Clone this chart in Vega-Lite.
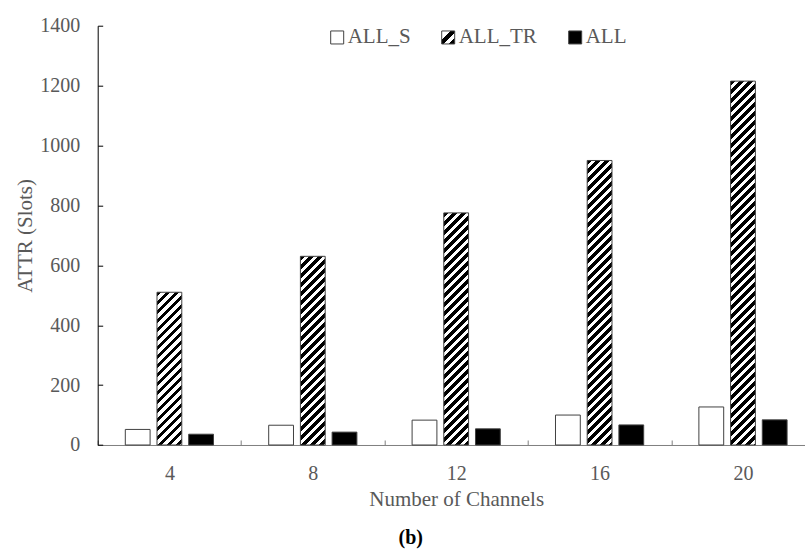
{
"$schema": "https://vega.github.io/schema/vega-lite/v6.json",
"autosize": {"type": "none"},
"width": 708,
"height": 419.3,
"padding": {"left": 97.7, "top": 25.7, "right": 0, "bottom": 104},
"background": "white",
"config": {"view": {"stroke": null}, "font": "Liberation Serif",
 "axis": {"labelFont": "Liberation Serif", "titleFont": "Liberation Serif"},
 "legend": {"labelFont": "Liberation Serif", "titleFont": "Liberation Serif"},
 "title": {"font": "Liberation Serif"}},
"title": {"text": "(b)", "orient": "bottom", "anchor": "middle", "dx": -41, "offset": 18, "fontSize": 20, "fontWeight": "bold", "color": "#000000", "font": "Liberation Serif"},
"data": {"values": [
{"channels": 4, "series": "ALL_S", "value": 52},
{"channels": 4, "series": "ALL_TR", "value": 510},
{"channels": 4, "series": "ALL", "value": 36},
{"channels": 8, "series": "ALL_S", "value": 66},
{"channels": 8, "series": "ALL_TR", "value": 630},
{"channels": 8, "series": "ALL", "value": 43},
{"channels": 12, "series": "ALL_S", "value": 83},
{"channels": 12, "series": "ALL_TR", "value": 775},
{"channels": 12, "series": "ALL", "value": 54},
{"channels": 16, "series": "ALL_S", "value": 100},
{"channels": 16, "series": "ALL_TR", "value": 950},
{"channels": 16, "series": "ALL", "value": 67},
{"channels": 20, "series": "ALL_S", "value": 127},
{"channels": 20, "series": "ALL_TR", "value": 1215},
{"channels": 20, "series": "ALL", "value": 84}
]},
"mark": {"type": "bar", "stroke": "#404040", "strokeWidth": 1, "opacity": 1},
"encoding": {
"x": {"field": "channels", "type": "ordinal",
 "scale": {"range": [0, 717], "paddingInner": 0, "paddingOuter": 0},
 "axis": {"title": "Number of Channels", "labelAngle": 0, "tickBand": "extent", "tickSize": -5, "tickColor": "#808080", "domainColor": "#808080", "labelPadding": 24, "labelFont": "Liberation Serif", "labelFontSize": 20, "labelColor": "#595959", "titleFont": "Liberation Serif", "titleFontSize": 21, "titleColor": "#595959", "titleFontWeight": "normal", "titlePadding": 5}},
"xOffset": {"field": "series", "type": "nominal", "sort": ["ALL_S", "ALL_TR", "ALL"], "scale": {"paddingInner": 0.2177, "paddingOuter": 0.8707}},
"y": {"field": "value", "type": "quantitative",
 "scale": {"domain": [0, 1400], "nice": false},
 "axis": {"title": "ATTR (Slots)", "values": [0, 200, 400, 600, 800, 1000, 1200, 1400], "format": "d", "grid": false, "tickSize": -5, "tickColor": "#000000", "domainColor": "#000000", "labelPadding": 23, "labelFont": "Liberation Serif", "labelFontSize": 20, "labelColor": "#595959", "titleFont": "Liberation Serif", "titleFontSize": 21, "titleColor": "#595959", "titleFontWeight": "normal", "titlePadding": 4}},
"fill": {"field": "series", "type": "nominal",
 "scale": {"domain": ["ALL_S", "ALL_TR", "ALL"], "range": ["#ffffff", {"expr": "{gradient: 'linear', x1: 0, y1: 0, x2: 1, y2: 1, stops: [{offset: 0, color: '#fff'}, {offset: 0.33, color: '#fff'}, {offset: 0.33, color: '#000'}, {offset: 0.58, color: '#000'}, {offset: 0.58, color: '#fff'}, {offset: 0.76, color: '#fff'}, {offset: 0.76, color: '#000'}, {offset: 1, color: '#000'}]}"}, "#000000"]},
 "legend": {"title": null, "orient": "none", "legendX": 229, "legendY": 1, "direction": "horizontal", "symbolType": "square", "symbolSize": 169, "symbolStrokeColor": "#404040", "symbolStrokeWidth": 1, "labelFont": "Liberation Serif", "labelFontSize": 21, "labelColor": "#595959", "labelOffset": 0, "columnPadding": 27},
 "condition": [
 {"test": "datum.series === 'ALL_TR' && datum.channels === 4", "value": {"gradient": "linear", "x1": 0, "y1": 0, "x2": 0.46602, "y2": 2.87032, "stops": [
{"offset":0.00,"color":"#000"},{"offset":0.01,"color":"#000"},{"offset":0.01,"color":"#fff"},{"offset":0.02,"color":"#fff"},{"offset":0.02,"color":"#000"},{"offset":0.03,"color":"#000"},{"offset":0.03,"color":"#fff"},{"offset":0.04,"color":"#fff"},{"offset":0.04,"color":"#000"},{"offset":0.05,"color":"#000"},{"offset":0.05,"color":"#fff"},{"offset":0.06,"color":"#fff"},{"offset":0.06,"color":"#000"},{"offset":0.07,"color":"#000"},{"offset":0.07,"color":"#fff"},{"offset":0.08,"color":"#fff"},{"offset":0.08,"color":"#000"},{"offset":0.09,"color":"#000"},{"offset":0.09,"color":"#fff"},{"offset":0.10,"color":"#fff"},
{"offset":0.10,"color":"#000"},{"offset":0.11,"color":"#000"},{"offset":0.11,"color":"#fff"},{"offset":0.12,"color":"#fff"},{"offset":0.12,"color":"#000"},{"offset":0.13,"color":"#000"},{"offset":0.13,"color":"#fff"},{"offset":0.14,"color":"#fff"},{"offset":0.14,"color":"#000"},{"offset":0.15,"color":"#000"},{"offset":0.15,"color":"#fff"},{"offset":0.16,"color":"#fff"},{"offset":0.16,"color":"#000"},{"offset":0.17,"color":"#000"},{"offset":0.17,"color":"#fff"},{"offset":0.18,"color":"#fff"},{"offset":0.18,"color":"#000"},{"offset":0.19,"color":"#000"},{"offset":0.19,"color":"#fff"},{"offset":0.20,"color":"#fff"},
{"offset":0.20,"color":"#000"},{"offset":0.21,"color":"#000"},{"offset":0.21,"color":"#fff"},{"offset":0.22,"color":"#fff"},{"offset":0.22,"color":"#000"},{"offset":0.23,"color":"#000"},{"offset":0.23,"color":"#fff"},{"offset":0.24,"color":"#fff"},{"offset":0.24,"color":"#000"},{"offset":0.25,"color":"#000"},{"offset":0.25,"color":"#fff"},{"offset":0.26,"color":"#fff"},{"offset":0.26,"color":"#000"},{"offset":0.27,"color":"#000"},{"offset":0.27,"color":"#fff"},{"offset":0.28,"color":"#fff"},{"offset":0.28,"color":"#000"},{"offset":0.29,"color":"#000"},{"offset":0.29,"color":"#fff"},{"offset":0.30,"color":"#fff"},
{"offset":0.30,"color":"#000"},{"offset":0.31,"color":"#000"},{"offset":0.31,"color":"#fff"},{"offset":0.32,"color":"#fff"},{"offset":0.32,"color":"#000"},{"offset":0.33,"color":"#000"},{"offset":0.33,"color":"#fff"},{"offset":0.34,"color":"#fff"},{"offset":0.34,"color":"#000"},{"offset":0.35,"color":"#000"},{"offset":0.35,"color":"#fff"},{"offset":0.36,"color":"#fff"},{"offset":0.36,"color":"#000"},{"offset":0.37,"color":"#000"},{"offset":0.37,"color":"#fff"},{"offset":0.38,"color":"#fff"},{"offset":0.38,"color":"#000"},{"offset":0.39,"color":"#000"},{"offset":0.39,"color":"#fff"},{"offset":0.40,"color":"#fff"}
 ]}},
 {"test": "datum.series === 'ALL_TR' && datum.channels === 8", "value": {"gradient": "linear", "x1": 0, "y1": 0, "x2": 0.30813, "y2": 2.34437, "stops": [
{"offset":0.00,"color":"#000"},{"offset":0.01,"color":"#000"},{"offset":0.01,"color":"#fff"},{"offset":0.02,"color":"#fff"},{"offset":0.02,"color":"#000"},{"offset":0.03,"color":"#000"},{"offset":0.03,"color":"#fff"},{"offset":0.04,"color":"#fff"},{"offset":0.04,"color":"#000"},{"offset":0.05,"color":"#000"},{"offset":0.05,"color":"#fff"},{"offset":0.06,"color":"#fff"},{"offset":0.06,"color":"#000"},{"offset":0.07,"color":"#000"},{"offset":0.07,"color":"#fff"},{"offset":0.08,"color":"#fff"},{"offset":0.08,"color":"#000"},{"offset":0.09,"color":"#000"},{"offset":0.09,"color":"#fff"},{"offset":0.10,"color":"#fff"},
{"offset":0.10,"color":"#000"},{"offset":0.11,"color":"#000"},{"offset":0.11,"color":"#fff"},{"offset":0.12,"color":"#fff"},{"offset":0.12,"color":"#000"},{"offset":0.13,"color":"#000"},{"offset":0.13,"color":"#fff"},{"offset":0.14,"color":"#fff"},{"offset":0.14,"color":"#000"},{"offset":0.15,"color":"#000"},{"offset":0.15,"color":"#fff"},{"offset":0.16,"color":"#fff"},{"offset":0.16,"color":"#000"},{"offset":0.17,"color":"#000"},{"offset":0.17,"color":"#fff"},{"offset":0.18,"color":"#fff"},{"offset":0.18,"color":"#000"},{"offset":0.19,"color":"#000"},{"offset":0.19,"color":"#fff"},{"offset":0.20,"color":"#fff"},
{"offset":0.20,"color":"#000"},{"offset":0.21,"color":"#000"},{"offset":0.21,"color":"#fff"},{"offset":0.22,"color":"#fff"},{"offset":0.22,"color":"#000"},{"offset":0.23,"color":"#000"},{"offset":0.23,"color":"#fff"},{"offset":0.24,"color":"#fff"},{"offset":0.24,"color":"#000"},{"offset":0.25,"color":"#000"},{"offset":0.25,"color":"#fff"},{"offset":0.26,"color":"#fff"},{"offset":0.26,"color":"#000"},{"offset":0.27,"color":"#000"},{"offset":0.27,"color":"#fff"},{"offset":0.28,"color":"#fff"},{"offset":0.28,"color":"#000"},{"offset":0.29,"color":"#000"},{"offset":0.29,"color":"#fff"},{"offset":0.30,"color":"#fff"},
{"offset":0.30,"color":"#000"},{"offset":0.31,"color":"#000"},{"offset":0.31,"color":"#fff"},{"offset":0.32,"color":"#fff"},{"offset":0.32,"color":"#000"},{"offset":0.33,"color":"#000"},{"offset":0.33,"color":"#fff"},{"offset":0.34,"color":"#fff"},{"offset":0.34,"color":"#000"},{"offset":0.35,"color":"#000"},{"offset":0.35,"color":"#fff"},{"offset":0.36,"color":"#fff"},{"offset":0.36,"color":"#000"},{"offset":0.37,"color":"#000"},{"offset":0.37,"color":"#fff"},{"offset":0.38,"color":"#fff"},{"offset":0.38,"color":"#000"},{"offset":0.39,"color":"#000"},{"offset":0.39,"color":"#fff"},{"offset":0.40,"color":"#fff"},
{"offset":0.40,"color":"#000"},{"offset":0.41,"color":"#000"},{"offset":0.41,"color":"#fff"},{"offset":0.42,"color":"#fff"},{"offset":0.42,"color":"#000"},{"offset":0.43,"color":"#000"},{"offset":0.43,"color":"#fff"},{"offset":0.44,"color":"#fff"},{"offset":0.44,"color":"#000"},{"offset":0.45,"color":"#000"},{"offset":0.45,"color":"#fff"},{"offset":0.46,"color":"#fff"},{"offset":0.46,"color":"#000"},{"offset":0.47,"color":"#000"},{"offset":0.47,"color":"#fff"},{"offset":0.48,"color":"#fff"},{"offset":0.48,"color":"#000"},{"offset":0.49,"color":"#000"},{"offset":0.49,"color":"#fff"},{"offset":0.50,"color":"#fff"}
 ]}},
 {"test": "datum.series === 'ALL_TR' && datum.channels === 12", "value": {"gradient": "linear", "x1": 0, "y1": 0, "x2": 0.20481, "y2": 1.91685, "stops": [
{"offset":0.00,"color":"#000"},{"offset":0.01,"color":"#000"},{"offset":0.01,"color":"#fff"},{"offset":0.02,"color":"#fff"},{"offset":0.02,"color":"#000"},{"offset":0.03,"color":"#000"},{"offset":0.03,"color":"#fff"},{"offset":0.04,"color":"#fff"},{"offset":0.04,"color":"#000"},{"offset":0.05,"color":"#000"},{"offset":0.05,"color":"#fff"},{"offset":0.06,"color":"#fff"},{"offset":0.06,"color":"#000"},{"offset":0.07,"color":"#000"},{"offset":0.07,"color":"#fff"},{"offset":0.08,"color":"#fff"},{"offset":0.08,"color":"#000"},{"offset":0.09,"color":"#000"},{"offset":0.09,"color":"#fff"},{"offset":0.10,"color":"#fff"},
{"offset":0.10,"color":"#000"},{"offset":0.11,"color":"#000"},{"offset":0.11,"color":"#fff"},{"offset":0.12,"color":"#fff"},{"offset":0.12,"color":"#000"},{"offset":0.13,"color":"#000"},{"offset":0.13,"color":"#fff"},{"offset":0.14,"color":"#fff"},{"offset":0.14,"color":"#000"},{"offset":0.15,"color":"#000"},{"offset":0.15,"color":"#fff"},{"offset":0.16,"color":"#fff"},{"offset":0.16,"color":"#000"},{"offset":0.17,"color":"#000"},{"offset":0.17,"color":"#fff"},{"offset":0.18,"color":"#fff"},{"offset":0.18,"color":"#000"},{"offset":0.19,"color":"#000"},{"offset":0.19,"color":"#fff"},{"offset":0.20,"color":"#fff"},
{"offset":0.20,"color":"#000"},{"offset":0.21,"color":"#000"},{"offset":0.21,"color":"#fff"},{"offset":0.22,"color":"#fff"},{"offset":0.22,"color":"#000"},{"offset":0.23,"color":"#000"},{"offset":0.23,"color":"#fff"},{"offset":0.24,"color":"#fff"},{"offset":0.24,"color":"#000"},{"offset":0.25,"color":"#000"},{"offset":0.25,"color":"#fff"},{"offset":0.26,"color":"#fff"},{"offset":0.26,"color":"#000"},{"offset":0.27,"color":"#000"},{"offset":0.27,"color":"#fff"},{"offset":0.28,"color":"#fff"},{"offset":0.28,"color":"#000"},{"offset":0.29,"color":"#000"},{"offset":0.29,"color":"#fff"},{"offset":0.30,"color":"#fff"},
{"offset":0.30,"color":"#000"},{"offset":0.31,"color":"#000"},{"offset":0.31,"color":"#fff"},{"offset":0.32,"color":"#fff"},{"offset":0.32,"color":"#000"},{"offset":0.33,"color":"#000"},{"offset":0.33,"color":"#fff"},{"offset":0.34,"color":"#fff"},{"offset":0.34,"color":"#000"},{"offset":0.35,"color":"#000"},{"offset":0.35,"color":"#fff"},{"offset":0.36,"color":"#fff"},{"offset":0.36,"color":"#000"},{"offset":0.37,"color":"#000"},{"offset":0.37,"color":"#fff"},{"offset":0.38,"color":"#fff"},{"offset":0.38,"color":"#000"},{"offset":0.39,"color":"#000"},{"offset":0.39,"color":"#fff"},{"offset":0.40,"color":"#fff"},
{"offset":0.40,"color":"#000"},{"offset":0.41,"color":"#000"},{"offset":0.41,"color":"#fff"},{"offset":0.42,"color":"#fff"},{"offset":0.42,"color":"#000"},{"offset":0.43,"color":"#000"},{"offset":0.43,"color":"#fff"},{"offset":0.44,"color":"#fff"},{"offset":0.44,"color":"#000"},{"offset":0.45,"color":"#000"},{"offset":0.45,"color":"#fff"},{"offset":0.46,"color":"#fff"},{"offset":0.46,"color":"#000"},{"offset":0.47,"color":"#000"},{"offset":0.47,"color":"#fff"},{"offset":0.48,"color":"#fff"},{"offset":0.48,"color":"#000"},{"offset":0.49,"color":"#000"},{"offset":0.49,"color":"#fff"},{"offset":0.50,"color":"#fff"},
{"offset":0.50,"color":"#000"},{"offset":0.51,"color":"#000"},{"offset":0.51,"color":"#fff"},{"offset":0.52,"color":"#fff"},{"offset":0.52,"color":"#000"},{"offset":0.53,"color":"#000"},{"offset":0.53,"color":"#fff"},{"offset":0.54,"color":"#fff"},{"offset":0.54,"color":"#000"},{"offset":0.55,"color":"#000"},{"offset":0.55,"color":"#fff"},{"offset":0.56,"color":"#fff"},{"offset":0.56,"color":"#000"},{"offset":0.57,"color":"#000"},{"offset":0.57,"color":"#fff"},{"offset":0.58,"color":"#fff"},{"offset":0.58,"color":"#000"},{"offset":0.59,"color":"#000"},{"offset":0.59,"color":"#fff"},{"offset":0.60,"color":"#fff"}
 ]}},
 {"test": "datum.series === 'ALL_TR' && datum.channels === 16", "value": {"gradient": "linear", "x1": 0, "y1": 0, "x2": 0.13681, "y2": 1.56963, "stops": [
{"offset":0.00,"color":"#000"},{"offset":0.01,"color":"#000"},{"offset":0.01,"color":"#fff"},{"offset":0.02,"color":"#fff"},{"offset":0.02,"color":"#000"},{"offset":0.03,"color":"#000"},{"offset":0.03,"color":"#fff"},{"offset":0.04,"color":"#fff"},{"offset":0.04,"color":"#000"},{"offset":0.05,"color":"#000"},{"offset":0.05,"color":"#fff"},{"offset":0.06,"color":"#fff"},{"offset":0.06,"color":"#000"},{"offset":0.07,"color":"#000"},{"offset":0.07,"color":"#fff"},{"offset":0.08,"color":"#fff"},{"offset":0.08,"color":"#000"},{"offset":0.09,"color":"#000"},{"offset":0.09,"color":"#fff"},{"offset":0.10,"color":"#fff"},
{"offset":0.10,"color":"#000"},{"offset":0.11,"color":"#000"},{"offset":0.11,"color":"#fff"},{"offset":0.12,"color":"#fff"},{"offset":0.12,"color":"#000"},{"offset":0.13,"color":"#000"},{"offset":0.13,"color":"#fff"},{"offset":0.14,"color":"#fff"},{"offset":0.14,"color":"#000"},{"offset":0.15,"color":"#000"},{"offset":0.15,"color":"#fff"},{"offset":0.16,"color":"#fff"},{"offset":0.16,"color":"#000"},{"offset":0.17,"color":"#000"},{"offset":0.17,"color":"#fff"},{"offset":0.18,"color":"#fff"},{"offset":0.18,"color":"#000"},{"offset":0.19,"color":"#000"},{"offset":0.19,"color":"#fff"},{"offset":0.20,"color":"#fff"},
{"offset":0.20,"color":"#000"},{"offset":0.21,"color":"#000"},{"offset":0.21,"color":"#fff"},{"offset":0.22,"color":"#fff"},{"offset":0.22,"color":"#000"},{"offset":0.23,"color":"#000"},{"offset":0.23,"color":"#fff"},{"offset":0.24,"color":"#fff"},{"offset":0.24,"color":"#000"},{"offset":0.25,"color":"#000"},{"offset":0.25,"color":"#fff"},{"offset":0.26,"color":"#fff"},{"offset":0.26,"color":"#000"},{"offset":0.27,"color":"#000"},{"offset":0.27,"color":"#fff"},{"offset":0.28,"color":"#fff"},{"offset":0.28,"color":"#000"},{"offset":0.29,"color":"#000"},{"offset":0.29,"color":"#fff"},{"offset":0.30,"color":"#fff"},
{"offset":0.30,"color":"#000"},{"offset":0.31,"color":"#000"},{"offset":0.31,"color":"#fff"},{"offset":0.32,"color":"#fff"},{"offset":0.32,"color":"#000"},{"offset":0.33,"color":"#000"},{"offset":0.33,"color":"#fff"},{"offset":0.34,"color":"#fff"},{"offset":0.34,"color":"#000"},{"offset":0.35,"color":"#000"},{"offset":0.35,"color":"#fff"},{"offset":0.36,"color":"#fff"},{"offset":0.36,"color":"#000"},{"offset":0.37,"color":"#000"},{"offset":0.37,"color":"#fff"},{"offset":0.38,"color":"#fff"},{"offset":0.38,"color":"#000"},{"offset":0.39,"color":"#000"},{"offset":0.39,"color":"#fff"},{"offset":0.40,"color":"#fff"},
{"offset":0.40,"color":"#000"},{"offset":0.41,"color":"#000"},{"offset":0.41,"color":"#fff"},{"offset":0.42,"color":"#fff"},{"offset":0.42,"color":"#000"},{"offset":0.43,"color":"#000"},{"offset":0.43,"color":"#fff"},{"offset":0.44,"color":"#fff"},{"offset":0.44,"color":"#000"},{"offset":0.45,"color":"#000"},{"offset":0.45,"color":"#fff"},{"offset":0.46,"color":"#fff"},{"offset":0.46,"color":"#000"},{"offset":0.47,"color":"#000"},{"offset":0.47,"color":"#fff"},{"offset":0.48,"color":"#fff"},{"offset":0.48,"color":"#000"},{"offset":0.49,"color":"#000"},{"offset":0.49,"color":"#fff"},{"offset":0.50,"color":"#fff"},
{"offset":0.50,"color":"#000"},{"offset":0.51,"color":"#000"},{"offset":0.51,"color":"#fff"},{"offset":0.52,"color":"#fff"},{"offset":0.52,"color":"#000"},{"offset":0.53,"color":"#000"},{"offset":0.53,"color":"#fff"},{"offset":0.54,"color":"#fff"},{"offset":0.54,"color":"#000"},{"offset":0.55,"color":"#000"},{"offset":0.55,"color":"#fff"},{"offset":0.56,"color":"#fff"},{"offset":0.56,"color":"#000"},{"offset":0.57,"color":"#000"},{"offset":0.57,"color":"#fff"},{"offset":0.58,"color":"#fff"},{"offset":0.58,"color":"#000"},{"offset":0.59,"color":"#000"},{"offset":0.59,"color":"#fff"},{"offset":0.60,"color":"#fff"},
{"offset":0.60,"color":"#000"},{"offset":0.61,"color":"#000"},{"offset":0.61,"color":"#fff"},{"offset":0.62,"color":"#fff"},{"offset":0.62,"color":"#000"},{"offset":0.63,"color":"#000"},{"offset":0.63,"color":"#fff"},{"offset":0.64,"color":"#fff"},{"offset":0.64,"color":"#000"},{"offset":0.65,"color":"#000"},{"offset":0.65,"color":"#fff"},{"offset":0.66,"color":"#fff"},{"offset":0.66,"color":"#000"},{"offset":0.67,"color":"#000"},{"offset":0.67,"color":"#fff"},{"offset":0.68,"color":"#fff"},{"offset":0.68,"color":"#000"},{"offset":0.69,"color":"#000"},{"offset":0.69,"color":"#fff"},{"offset":0.70,"color":"#fff"}
 ]}},
 {"test": "datum.series === 'ALL_TR' && datum.channels === 20", "value": {"gradient": "linear", "x1": 0, "y1": 0, "x2": 0.08389, "y2": 1.23092, "stops": [
{"offset":0.00,"color":"#000"},{"offset":0.01,"color":"#000"},{"offset":0.01,"color":"#fff"},{"offset":0.02,"color":"#fff"},{"offset":0.02,"color":"#000"},{"offset":0.03,"color":"#000"},{"offset":0.03,"color":"#fff"},{"offset":0.04,"color":"#fff"},{"offset":0.04,"color":"#000"},{"offset":0.05,"color":"#000"},{"offset":0.05,"color":"#fff"},{"offset":0.06,"color":"#fff"},{"offset":0.06,"color":"#000"},{"offset":0.07,"color":"#000"},{"offset":0.07,"color":"#fff"},{"offset":0.08,"color":"#fff"},{"offset":0.08,"color":"#000"},{"offset":0.09,"color":"#000"},{"offset":0.09,"color":"#fff"},{"offset":0.10,"color":"#fff"},
{"offset":0.10,"color":"#000"},{"offset":0.11,"color":"#000"},{"offset":0.11,"color":"#fff"},{"offset":0.12,"color":"#fff"},{"offset":0.12,"color":"#000"},{"offset":0.13,"color":"#000"},{"offset":0.13,"color":"#fff"},{"offset":0.14,"color":"#fff"},{"offset":0.14,"color":"#000"},{"offset":0.15,"color":"#000"},{"offset":0.15,"color":"#fff"},{"offset":0.16,"color":"#fff"},{"offset":0.16,"color":"#000"},{"offset":0.17,"color":"#000"},{"offset":0.17,"color":"#fff"},{"offset":0.18,"color":"#fff"},{"offset":0.18,"color":"#000"},{"offset":0.19,"color":"#000"},{"offset":0.19,"color":"#fff"},{"offset":0.20,"color":"#fff"},
{"offset":0.20,"color":"#000"},{"offset":0.21,"color":"#000"},{"offset":0.21,"color":"#fff"},{"offset":0.22,"color":"#fff"},{"offset":0.22,"color":"#000"},{"offset":0.23,"color":"#000"},{"offset":0.23,"color":"#fff"},{"offset":0.24,"color":"#fff"},{"offset":0.24,"color":"#000"},{"offset":0.25,"color":"#000"},{"offset":0.25,"color":"#fff"},{"offset":0.26,"color":"#fff"},{"offset":0.26,"color":"#000"},{"offset":0.27,"color":"#000"},{"offset":0.27,"color":"#fff"},{"offset":0.28,"color":"#fff"},{"offset":0.28,"color":"#000"},{"offset":0.29,"color":"#000"},{"offset":0.29,"color":"#fff"},{"offset":0.30,"color":"#fff"},
{"offset":0.30,"color":"#000"},{"offset":0.31,"color":"#000"},{"offset":0.31,"color":"#fff"},{"offset":0.32,"color":"#fff"},{"offset":0.32,"color":"#000"},{"offset":0.33,"color":"#000"},{"offset":0.33,"color":"#fff"},{"offset":0.34,"color":"#fff"},{"offset":0.34,"color":"#000"},{"offset":0.35,"color":"#000"},{"offset":0.35,"color":"#fff"},{"offset":0.36,"color":"#fff"},{"offset":0.36,"color":"#000"},{"offset":0.37,"color":"#000"},{"offset":0.37,"color":"#fff"},{"offset":0.38,"color":"#fff"},{"offset":0.38,"color":"#000"},{"offset":0.39,"color":"#000"},{"offset":0.39,"color":"#fff"},{"offset":0.40,"color":"#fff"},
{"offset":0.40,"color":"#000"},{"offset":0.41,"color":"#000"},{"offset":0.41,"color":"#fff"},{"offset":0.42,"color":"#fff"},{"offset":0.42,"color":"#000"},{"offset":0.43,"color":"#000"},{"offset":0.43,"color":"#fff"},{"offset":0.44,"color":"#fff"},{"offset":0.44,"color":"#000"},{"offset":0.45,"color":"#000"},{"offset":0.45,"color":"#fff"},{"offset":0.46,"color":"#fff"},{"offset":0.46,"color":"#000"},{"offset":0.47,"color":"#000"},{"offset":0.47,"color":"#fff"},{"offset":0.48,"color":"#fff"},{"offset":0.48,"color":"#000"},{"offset":0.49,"color":"#000"},{"offset":0.49,"color":"#fff"},{"offset":0.50,"color":"#fff"},
{"offset":0.50,"color":"#000"},{"offset":0.51,"color":"#000"},{"offset":0.51,"color":"#fff"},{"offset":0.52,"color":"#fff"},{"offset":0.52,"color":"#000"},{"offset":0.53,"color":"#000"},{"offset":0.53,"color":"#fff"},{"offset":0.54,"color":"#fff"},{"offset":0.54,"color":"#000"},{"offset":0.55,"color":"#000"},{"offset":0.55,"color":"#fff"},{"offset":0.56,"color":"#fff"},{"offset":0.56,"color":"#000"},{"offset":0.57,"color":"#000"},{"offset":0.57,"color":"#fff"},{"offset":0.58,"color":"#fff"},{"offset":0.58,"color":"#000"},{"offset":0.59,"color":"#000"},{"offset":0.59,"color":"#fff"},{"offset":0.60,"color":"#fff"},
{"offset":0.60,"color":"#000"},{"offset":0.61,"color":"#000"},{"offset":0.61,"color":"#fff"},{"offset":0.62,"color":"#fff"},{"offset":0.62,"color":"#000"},{"offset":0.63,"color":"#000"},{"offset":0.63,"color":"#fff"},{"offset":0.64,"color":"#fff"},{"offset":0.64,"color":"#000"},{"offset":0.65,"color":"#000"},{"offset":0.65,"color":"#fff"},{"offset":0.66,"color":"#fff"},{"offset":0.66,"color":"#000"},{"offset":0.67,"color":"#000"},{"offset":0.67,"color":"#fff"},{"offset":0.68,"color":"#fff"},{"offset":0.68,"color":"#000"},{"offset":0.69,"color":"#000"},{"offset":0.69,"color":"#fff"},{"offset":0.70,"color":"#fff"},
{"offset":0.70,"color":"#000"},{"offset":0.71,"color":"#000"},{"offset":0.71,"color":"#fff"},{"offset":0.72,"color":"#fff"},{"offset":0.72,"color":"#000"},{"offset":0.73,"color":"#000"},{"offset":0.73,"color":"#fff"},{"offset":0.74,"color":"#fff"},{"offset":0.74,"color":"#000"},{"offset":0.75,"color":"#000"},{"offset":0.75,"color":"#fff"},{"offset":0.76,"color":"#fff"},{"offset":0.76,"color":"#000"},{"offset":0.77,"color":"#000"},{"offset":0.77,"color":"#fff"},{"offset":0.78,"color":"#fff"},{"offset":0.78,"color":"#000"},{"offset":0.79,"color":"#000"},{"offset":0.79,"color":"#fff"},{"offset":0.80,"color":"#fff"},
{"offset":0.80,"color":"#000"},{"offset":0.81,"color":"#000"},{"offset":0.81,"color":"#fff"},{"offset":0.82,"color":"#fff"},{"offset":0.82,"color":"#000"},{"offset":0.83,"color":"#000"},{"offset":0.83,"color":"#fff"},{"offset":0.84,"color":"#fff"},{"offset":0.84,"color":"#000"},{"offset":0.85,"color":"#000"},{"offset":0.85,"color":"#fff"},{"offset":0.86,"color":"#fff"},{"offset":0.86,"color":"#000"},{"offset":0.87,"color":"#000"},{"offset":0.87,"color":"#fff"},{"offset":0.88,"color":"#fff"},{"offset":0.88,"color":"#000"},{"offset":0.89,"color":"#000"},{"offset":0.89,"color":"#fff"},{"offset":0.90,"color":"#fff"}
 ]}}
 ]}
}
}
